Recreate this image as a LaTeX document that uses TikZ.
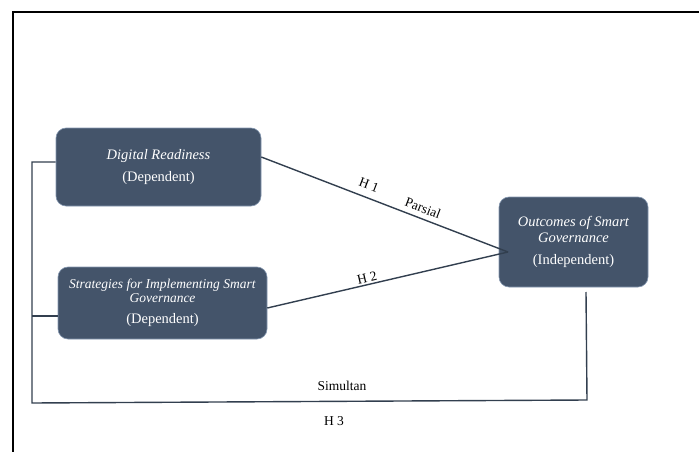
\documentclass[tikz,border=0pt]{standalone}
\usepackage{fontspec}
\setmainfont{Liberation Serif}
\definecolor{boxfill}{HTML}{44546A}
\definecolor{boxline}{HTML}{8497B0}
\definecolor{conn}{HTML}{323F4F}
\begin{document}
\begin{tikzpicture}[x=1pt,y=-1pt,
  varbox/.style={draw=boxline, line width=0.6pt, fill=boxfill, rounded corners=10pt,
    text=white, align=center, inner sep=2pt},
  link/.style={draw=conn, line width=1.4pt},
  lbl/.style={font=\fontsize{13.5}{16}\selectfont, text=black, inner sep=0pt}]
\useasboundingbox (0,0) rectangle (699,452);
% outer frame (cropped)
\draw[line width=2pt, black] (13,452) -- (13,12) -- (699,12);
% boxes
\node[varbox, minimum width=205pt, minimum height=78pt, font=\fontsize{14.5}{17}\selectfont] (dr) at (158.5,167)
  {\textit{Digital Readiness}\\[5pt](Dependent)};
\node[varbox, minimum width=209pt, minimum height=72pt, font=\fontsize{13.5}{14}\selectfont] (st) at (162.5,303)
  {\textit{Strategies for Implementing Smart}\\\textit{Governance}\\[7pt]{\fontsize{14.5}{17}\selectfont(Dependent)}};
\node[varbox, minimum width=149pt, minimum height=90pt, font=\fontsize{14.5}{16}\selectfont] (out) at (573.5,242)
  {\textit{Outcomes of Smart}\\\textit{Governance}\\[6pt](Independent)};
% connector points
\coordinate (meet) at (508,252);
\coordinate (bl) at (32,403);
\coordinate (br) at (587,400);
\coordinate (ot) at (586,292);
% partial links
\draw[link] (dr.east |- 0,157) -- (meet);
\draw[link] (st.east |- 0,308) -- (meet);
% simultaneous bracket
\draw[link] (dr.west |- 0,162) -- (32,162) -- (bl) -- (br) -- (ot);
\draw[link] (32,316) -- (st.west |- 0,316);
% labels
\node[lbl, rotate=-21] (h1) at (369,185) {H 1};
\node[lbl, rotate=-21] (pa) at (423,208) {Parsial};
\node[lbl, rotate=13] (h2) at (367,278) {H 2};
\node[lbl] (si) at (342,386) {Simultan};
\node[lbl] (h3) at (334,421) {H 3};
\end{tikzpicture}
\end{document}
